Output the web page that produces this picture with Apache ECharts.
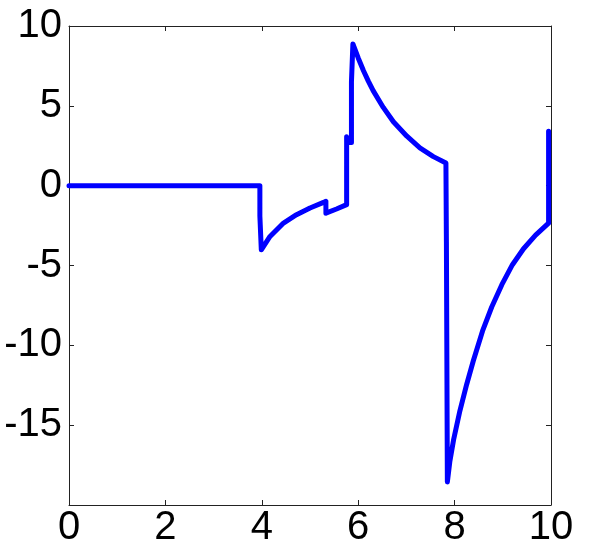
<!DOCTYPE html>
<html>
<head>
<meta charset="utf-8">
<script src="https://cdn.jsdelivr.net/npm/echarts@6/dist/echarts.min.js"></script>
<style>
  html, body { margin: 0; padding: 0; background: #fff; }
  #chart { width: 600px; height: 550px; }
</style>
</head>
<body>
<div id="chart"></div>
<script>
// values (x = time, y = signal)
var xs = [0, 3.96, 3.96, 3.99, 3.99,
  4.17, 4.45, 4.72, 5.0, 5.28, 5.33,
  5.33, 5.55, 5.76,
  5.76, 5.79, 5.79, 5.86, 5.86, 5.89,
  6.00, 6.11, 6.21, 6.31, 6.52, 6.73, 7.01, 7.28, 7.56, 7.82,
  7.83, 7.83, 7.85, 7.85,
  7.90, 7.98, 8.11, 8.25, 8.39, 8.58, 8.77, 8.98, 9.20, 9.43, 9.68, 9.95,
  9.95];
var ys = [0, 0, -1.9, -2.0, -4.02,
  -3.18, -2.34, -1.82, -1.40, -1.05, -0.98,
  -1.72, -1.46, -1.19,
  3.06, 3.06, 2.7, 2.7, 6.5, 8.88,
  8.0, 7.2, 6.55, 5.95, 4.9, 4.0, 3.10, 2.37, 1.82, 1.42,
  1.35, -3.5, -3.5, -18.56,
  -17.3, -15.9, -14.1, -12.45, -10.95, -9.1, -7.6, -6.2, -4.95, -3.95, -3.1, -2.35,
  3.41];
var xTicks = [0, 2, 4, 6, 8, 10];
var yTicks = [-15, -10, -5, 0, 5, 10];

var points = xs.map(function (x, i) { return [x, ys[i]]; });

var chart = echarts.init(document.getElementById('chart'));

var labelFont = {
    color: '#000',
    fontFamily: 'Liberation Sans, Arial, sans-serif',
    fontSize: 40
};
var lineStyle = { color: '#222', width: 1 };

var option = {
    animation: false,
    grid: { left: 69, right: 49, top: 26, bottom: 45 },
    xAxis: [
        {
            type: 'value', min: 0, max: 10, interval: 2,
            position: 'bottom',
            axisLine: { show: true, onZero: false, lineStyle: lineStyle },
            axisTick: { show: true, inside: true, length: 5, lineStyle: lineStyle },
            axisLabel: Object.assign({ margin: 3 }, labelFont, {
                formatter: function (v) { return xTicks.indexOf(v) >= 0 ? String(v) : ''; }
            }),
            splitLine: { show: false }
        },
        {
            type: 'value', min: 0, max: 10, interval: 2,
            position: 'top',
            axisLine: { show: true, onZero: false, lineStyle: lineStyle },
            axisTick: { show: true, inside: true, length: 5, lineStyle: lineStyle },
            axisLabel: { show: false },
            splitLine: { show: false }
        }
    ],
    yAxis: [
        {
            type: 'value', min: -20, max: 10, interval: 5,
            position: 'left',
            axisLine: { show: true, onZero: false, lineStyle: lineStyle },
            axisTick: { show: true, inside: true, length: 5, lineStyle: lineStyle },
            axisLabel: Object.assign({ margin: 7 }, labelFont, {
                formatter: function (v) { return yTicks.indexOf(v) >= 0 ? String(v) : ''; }
            }),
            splitLine: { show: false }
        },
        {
            type: 'value', min: -20, max: 10, interval: 5,
            position: 'right',
            axisLine: { show: true, onZero: false, lineStyle: lineStyle },
            axisTick: { show: true, inside: true, length: 5, lineStyle: lineStyle },
            axisLabel: { show: false },
            splitLine: { show: false }
        }
    ],
    series: [
        {
            type: 'line',
            xAxisIndex: 0,
            yAxisIndex: 0,
            data: points,
            showSymbol: false,
            clip: false,
            lineStyle: { color: '#0000ff', width: 5, join: 'round', cap: 'round' }
        }
    ]
};

chart.setOption(option);
</script>
</body>
</html>
